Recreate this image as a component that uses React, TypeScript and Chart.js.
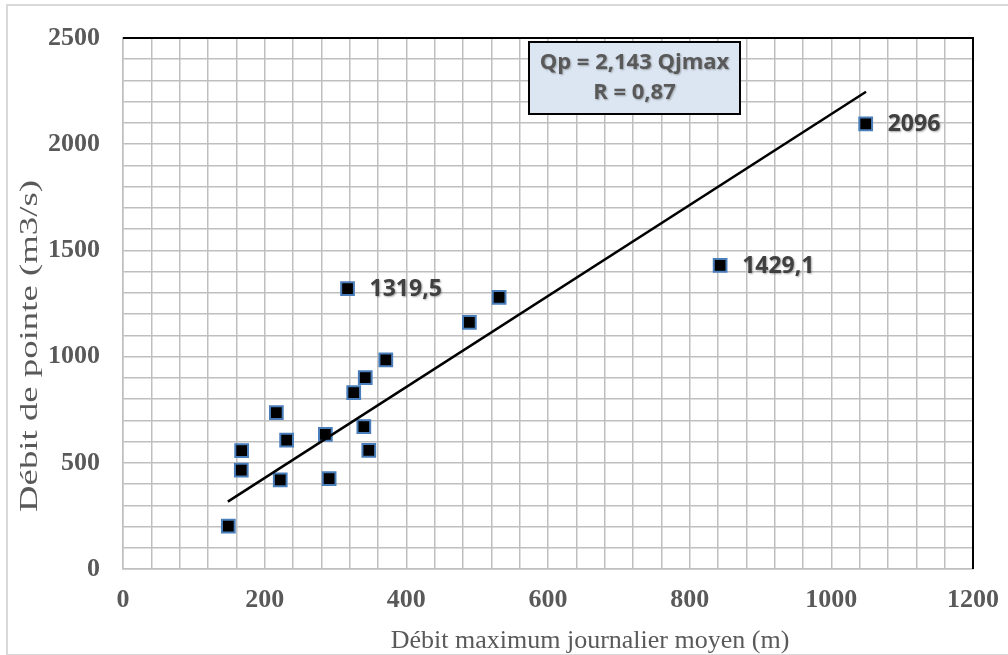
import { useEffect, useRef } from 'react'
import { Chart, registerables, Plugin } from 'chart.js'

Chart.register(...registerables)

// Débit maximum journalier moyen (x) vs débit de pointe (y)
const qjmax = [148.7, 167.5, 167, 216.5, 231, 222, 285.7, 291, 325.7, 342, 371, 340, 347, 317, 489, 531, 843, 1048.5]
const qp = [202, 557, 466, 736, 607, 420, 634, 425, 830, 901, 985, 670, 559, 1319.5, 1161, 1279, 1429.1, 2096]
const pointLabels = ['', '', '', '', '', '', '', '', '', '', '', '', '', '1319,5', '', '', '1429,1', '2096']

// trendline end points (Qp = 2,143 Qjmax)
const trendX = [148, 1049]
const trendY = [317, 2247]

const equationLines = ['Qp = 2,143 Qjmax', 'R = 0,87']
const xTitle = 'Débit maximum journalier moyen (m)'
const yTitle = 'Débit de pointe (m3/s)'

const GRAY = '#595959'
const GRID = '#bfbfbf'
const SERIF = '"Liberation Serif", "Times New Roman", serif'
const SANS = '"Open Sans", "Noto Sans", sans-serif'

const extrasPlugin: Plugin = {
  id: 'extras',
  afterDraw(chart) {
    const { ctx, chartArea } = chart
    ctx.save()

    // black top and right frame of the plot area
    ctx.strokeStyle = '#000'
    ctx.lineWidth = 2
    ctx.beginPath()
    ctx.moveTo(chartArea.left, chartArea.top)
    ctx.lineTo(chartArea.right, chartArea.top)
    ctx.lineTo(chartArea.right, chartArea.bottom)
    ctx.stroke()

    // labels next to selected points
    const meta = chart.getDatasetMeta(0)
    ctx.font = `bold 23px ${SANS}`
    ctx.fillStyle = '#404040'
    ctx.textAlign = 'left'
    ctx.textBaseline = 'middle'
    ctx.shadowColor = 'rgba(0,0,0,0.35)'
    ctx.shadowBlur = 2
    ctx.shadowOffsetX = 1
    ctx.shadowOffsetY = 1
    meta.data.forEach((pt, i) => {
      const label = pointLabels[i]
      if (!label) return
      ctx.fillText(label, pt.x + 22, pt.y + 1)
    })

    // equation box
    ctx.shadowColor = 'transparent'
    const bx = 529, by = 42, bw = 211, bh = 72
    ctx.fillStyle = '#dce6f2'
    ctx.fillRect(bx, by, bw, bh)
    ctx.strokeStyle = '#000'
    ctx.lineWidth = 2
    ctx.strokeRect(bx, by, bw, bh)
    ctx.shadowColor = 'rgba(0,0,0,0.3)'
    ctx.shadowBlur = 2
    ctx.fillStyle = GRAY
    ctx.font = `bold 22px ${SANS}`
    ctx.textAlign = 'center'
    ctx.fillText(equationLines[0], bx + bw / 2, by + 21)
    ctx.fillText(equationLines[1], bx + bw / 2, by + 51)
    ctx.shadowColor = 'transparent'

    // axis titles
    ctx.fillStyle = GRAY
    ctx.font = `26px ${SERIF}`
    ctx.textAlign = 'center'
    ctx.textBaseline = 'alphabetic'
    ctx.fillText(xTitle, 590, 648)

    ctx.translate(30, 346)
    ctx.rotate(-Math.PI / 2)
    const w = ctx.measureText(yTitle).width
    ctx.scale(332 / w, 1)
    ctx.textBaseline = 'middle'
    ctx.fillText(yTitle, 0, 0)

    ctx.restore()
  }
}

const ScatterChart = () => {
  const canvasRef = useRef<HTMLCanvasElement>(null)

  useEffect(() => {
    if (!canvasRef.current) return
    document.body.style.margin = '0'

    const chart = new Chart(canvasRef.current, {
      type: 'scatter',
      data: {
        datasets: [
          {
            label: 'Qp',
            data: qjmax.map((x, i) => ({ x, y: qp[i] })),
            pointStyle: 'rect',
            pointRadius: 9,
            pointBackgroundColor: '#000',
            pointBorderColor: '#4a7ebb',
            pointBorderWidth: 2,
            showLine: false,
            order: 2
          },
          {
            type: 'line',
            label: 'Tendance',
            data: trendX.map((x, i) => ({ x, y: trendY[i] })),
            borderColor: '#000',
            borderWidth: 2.5,
            pointRadius: 0,
            fill: false,
            order: 1
          }
        ]
      },
      options: {
        animation: false,
        responsive: false,
        maintainAspectRatio: false,
        layout: { padding: { left: 0, right: 35, top: 38, bottom: 0 } },
        plugins: {
          legend: { display: false },
          tooltip: { enabled: false }
        },
        scales: {
          x: {
            type: 'linear',
            min: 0,
            max: 1200,
            afterFit: (s) => {
              s.height = 86
              s.paddingLeft = 0
              s.paddingRight = 0
            },
            ticks: {
              stepSize: 40,
              autoSkip: false,
              maxRotation: 0,
              padding: 16,
              color: GRAY,
              font: { family: SERIF, size: 26, weight: 'bold' },
              callback: (v) => (Number(v) % 200 === 0 ? String(v) : '')
            },
            grid: { color: GRID, lineWidth: 1.5, drawTicks: false },
            border: { color: GRID, width: 1.5 }
          },
          y: {
            type: 'linear',
            min: 0,
            max: 2500,
            afterFit: (s) => {
              s.width = 123
              s.paddingTop = 0
              s.paddingBottom = 0
            },
            ticks: {
              stepSize: 100,
              autoSkip: false,
              padding: 23,
              color: GRAY,
              font: { family: SERIF, size: 26, weight: 'bold' },
              callback: (v) => (Number(v) % 500 === 0 ? String(v) : '')
            },
            grid: { color: GRID, lineWidth: 1.5, drawTicks: false },
            border: { color: GRID, width: 1.5 }
          }
        }
      },
      plugins: [extrasPlugin]
    })

    return () => chart.destroy()
  }, [])

  return (
    <div style={{ position: 'relative', width: 1008, height: 655, overflow: 'hidden', background: '#fff' }}>
      <canvas ref={canvasRef} width={1008} height={655} aria-label="Débit de pointe en fonction du débit maximum journalier moyen" />
      <div
        style={{
          position: 'absolute',
          left: 6,
          top: 4,
          width: 1012,
          height: 648,
          border: '2px solid #d9d9d9',
          pointerEvents: 'none'
        }}
      />
    </div>
  )
}

export default function App() {
  return <ScatterChart />
}
